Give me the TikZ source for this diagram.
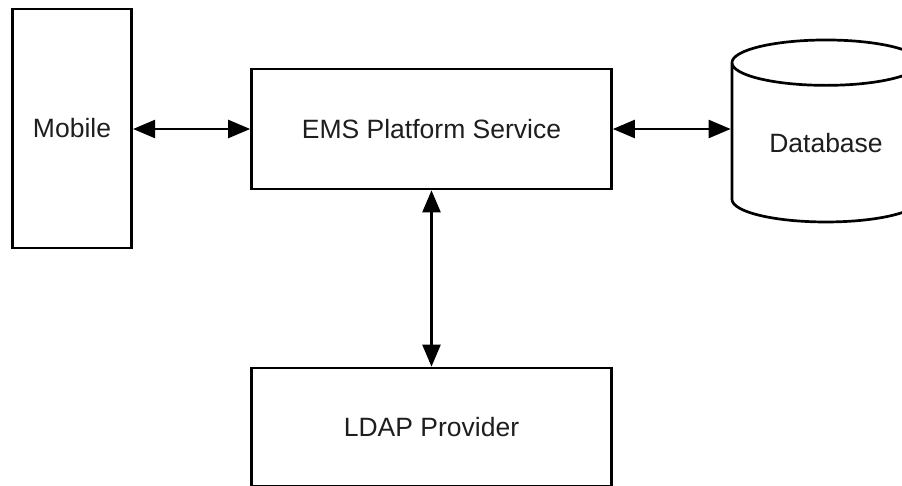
\documentclass[tikz,border=0pt]{standalone}
\usepackage{fontspec}
\setmainfont{Liberation Sans}
\usepackage{tikz}
\usetikzlibrary{positioning,shapes.geometric,arrows.meta}
\definecolor{lineDark}{HTML}{000000}
\definecolor{textDark}{HTML}{1E1E1E}

\begin{document}
\begin{tikzpicture}[
    x=1pt, y=-1pt,
    box/.style={rectangle, draw=lineDark, line width=2.7pt, fill=white,
                text=textDark, font=\fontsize{26.5}{30}\selectfont, inner sep=0pt},
    dbshape/.style={cylinder, shape border rotate=90, draw=lineDark, line width=2.7pt,
                fill=white, text=textDark, font=\fontsize{26.5}{30}\selectfont,
                aspect=0.4, minimum width=188pt, minimum height=182pt, inner sep=0pt},
    link/.style={{Triangle[length=22pt, width=18pt]}-{Triangle[length=22pt, width=18pt]},
                line width=2.5pt, lineDark},
]
    \useasboundingbox (0,0) rectangle (902,486);
    \clip (0,0) rectangle (902,486);

    % Clients
    \node[box, minimum width=119.5pt, minimum height=239pt] (mobile) at (72,128.5) {Mobile};

    % Platform
    \node[box, minimum width=360pt, minimum height=120pt] (ems) at (431.5,129) {EMS Platform Service};

    % Storage
    \node[dbshape] (db) at (826,143) {Database};

    % Directory
    \node[box, minimum width=360pt, minimum height=118pt] (ldap) at (431.5,427) {LDAP Provider};

    % Arrows
    \draw[link] (mobile.east |- ems.west) -- (ems.west);
    \draw[link] (ems.east) -- (ems.east -| db.west);
    \draw[link] (ems.south) -- (ldap.north);
\end{tikzpicture}
\end{document}
